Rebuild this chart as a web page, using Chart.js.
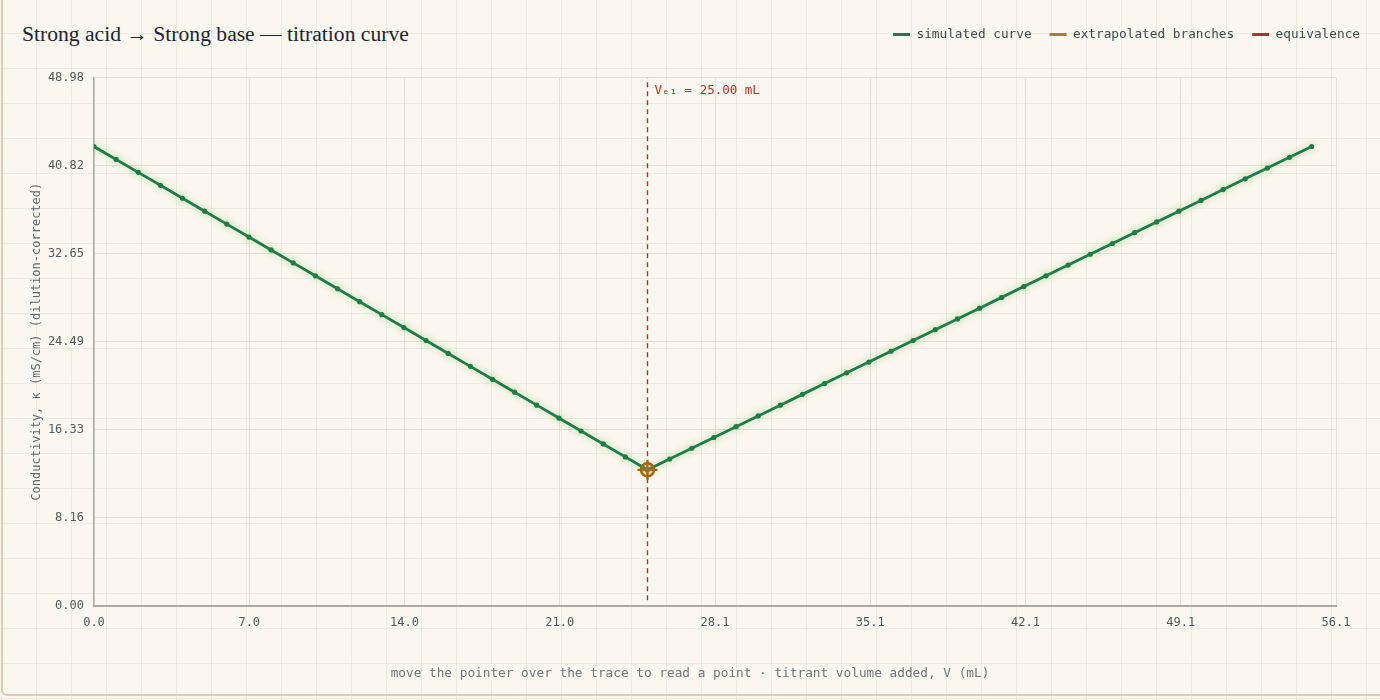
<!DOCTYPE html>
<html>
<head>
<meta charset="utf-8">
<script src="https://cdn.jsdelivr.net/npm/chart.js@4.4.1/dist/chart.umd.min.js"></script>
<style>
  html, body { margin: 0; padding: 0; width: 1380px; height: 700px; overflow: hidden; }
  body {
    background-color: #f9f7ef;
    background-image:
      linear-gradient(to right, rgba(205,215,195,0.35) 1px, transparent 1px),
      linear-gradient(to bottom, rgba(205,215,195,0.35) 1px, transparent 1px);
    background-size: 35px 35px;
    background-position: 1px -2px;
  }
  .card {
    position: absolute; left: 1px; top: -6px; width: 1390px; height: 702px;
    border: 2px solid #d9d0ab; border-radius: 6px; box-sizing: border-box;
  }
  h1 {
    position: absolute; left: 22px; top: 22px; margin: 0;
    font: 400 21.6px "Liberation Serif", serif; color: #1c2630;
  }
  .wrap { position: absolute; left: 0; top: 0; width: 1380px; height: 700px; }
</style>
</head>
<body>
<div class="card"></div>
<h1>Strong acid → Strong base — titration curve</h1>
<div class="wrap"><canvas id="c"></canvas></div>
<script>
// titrant volume added (mL)
const volumes = [0, 1, 2, 3, 4, 5, 6, 7, 8, 9, 10, 11, 12, 13, 14, 15, 16, 17, 18, 19,
  20, 21, 22, 23, 24, 25, 26, 27, 28, 29, 30, 31, 32, 33, 34, 35, 36, 37, 38, 39,
  40, 41, 42, 43, 44, 45, 46, 47, 48, 49, 50, 51, 52, 53, 54, 55]
// conductivity (mS/cm), dilution corrected
const conductivity = [42.6, 41.4, 40.2, 39.0, 37.8, 36.6, 35.4, 34.2, 33.0, 31.8,
  30.6, 29.4, 28.2, 27.0, 25.8, 24.6, 23.4, 22.2, 21.0, 19.8, 18.6, 17.4, 16.2, 15.0,
  13.8, 12.6, 13.6, 14.6, 15.6, 16.6, 17.6, 18.6, 19.6, 20.6, 21.6, 22.6, 23.6, 24.6,
  25.6, 26.6, 27.6, 28.6, 29.6, 30.6, 31.6, 32.6, 33.6, 34.6, 35.6, 36.6, 37.6, 38.6,
  39.6, 40.6, 41.6, 42.6]
const acidBranchX = [0, 25]
const acidBranchY = [42.6, 12.6]
const baseBranchX = [25, 55]
const baseBranchY = [12.6, 42.6]
const equivVolume = 25.00
const equivKappa = 12.6

const xMax = 56.1
const yMax = 48.98
const xTickLabels = ['0.0', '7.0', '14.0', '21.0', '28.1', '35.1', '42.1', '49.1', '56.1']
const yTickLabels = ['0.00', '8.16', '16.33', '24.49', '32.65', '40.82', '48.98']
const xTitle = 'move the pointer over the trace to read a point · titrant volume added, V (mL)'

const MONO = '"DejaVu Sans Mono", monospace'
const GREEN = '#1e7b4c'
const GOLD = '#b07b30'
const RED = '#ad3328'

const pts = (xs, ys) => xs.map((x, i) => ({ x: x, y: ys[i] }))

const glow = {
  id: 'glow',
  beforeDatasetDraw(chart, args) {
    if (args.index !== 0) return
    const ctx = chart.ctx
    ctx.save()
    ctx.shadowColor = 'rgba(130,185,80,0.45)'
    ctx.shadowBlur = 7
  },
  afterDatasetDraw(chart, args) {
    if (args.index !== 0) return
    chart.ctx.restore()
  }
}

const textBits = {
  id: 'textBits',
  afterDatasetsDraw(chart) {
    const ctx = chart.ctx
    const x = chart.scales.x.getPixelForValue(equivVolume)
    ctx.save()
    ctx.font = '12.5px ' + MONO
    ctx.fillStyle = RED
    ctx.textBaseline = 'middle'
    ctx.fillText('Vₑ₁ = ' + equivVolume.toFixed(2) + ' mL', x + 7, chart.chartArea.top + 13)
    // bottom caption, centred on the whole card
    ctx.font = '12.75px ' + MONO
    ctx.fillStyle = '#6d767a'
    ctx.textAlign = 'center'
    ctx.fillText(xTitle, chart.width / 2, chart.chartArea.bottom + 68)
    ctx.restore()
  }
}

const legendGap = {
  id: 'legendGap',
  beforeInit(chart) {
    const fit = chart.legend.fit
    chart.legend.fit = function () {
      fit.bind(chart.legend)()
      this.height += 27
    }
  }
}

const ctx = document.getElementById('c').getContext('2d')
const chart = new Chart(ctx, {
  type: 'line',
  data: {
    datasets: [
      {
        label: 'simulated curve',
        data: pts(volumes, conductivity),
        borderColor: GREEN,
        backgroundColor: GREEN,
        borderWidth: 2.8,
        pointRadius: 2.6,
        pointBorderWidth: 0,
        pointBackgroundColor: GREEN,
        tension: 0,
        order: 1
      },
      {
        label: 'extrapolated branches',
        data: pts(acidBranchX, acidBranchY),
        borderColor: GOLD,
        backgroundColor: GOLD,
        borderWidth: 1.2,
        borderDash: [4, 4],
        pointRadius: 0,
        order: 3
      },
      {
        label: '_base branch',
        data: pts(baseBranchX, baseBranchY),
        borderColor: GOLD,
        borderWidth: 1.2,
        borderDash: [4, 4],
        pointRadius: 0,
        order: 3
      },
      {
        label: 'equivalence',
        data: [{ x: equivVolume, y: 0.5 }, { x: equivVolume, y: yMax }],
        borderColor: RED,
        backgroundColor: RED,
        borderWidth: 1.4,
        borderDash: [5, 4],
        pointRadius: 0,
        order: 4
      },
      {
        label: '_eq ring',
        data: [{ x: equivVolume, y: equivKappa }],
        showLine: false,
        pointStyle: 'circle',
        pointRadius: 6.5,
        pointBorderWidth: 2.5,
        pointBorderColor: '#a0650f',
        pointBackgroundColor: 'rgba(196,140,40,0.25)',
        order: 0
      },
      {
        label: '_eq cross',
        data: [{ x: equivVolume, y: equivKappa }],
        showLine: false,
        pointStyle: 'cross',
        pointRadius: 10,
        pointBorderWidth: 2.3,
        pointBorderColor: '#a0650f',
        order: 0
      }
    ]
  },
  options: {
    responsive: true,
    maintainAspectRatio: false,
    animation: false,
    events: [],
    layout: { padding: { left: 22, right: 2, top: 10, bottom: 60 } },
    plugins: {
      tooltip: { enabled: false },
      legend: {
        position: 'top',
        align: 'end',
        labels: {
          font: { family: MONO, size: 12.75 },
          color: '#3d4a55',
          boxWidth: 17,
          boxHeight: 3,
          padding: 18,
          generateLabels(chart) {
            return chart.data.datasets
              .map((d, i) => ({ d, i }))
              .filter(o => !o.d.label.startsWith('_'))
              .map(o => ({
                text: o.d.label,
                fillStyle: o.d.borderColor,
                strokeStyle: o.d.borderColor,
                lineWidth: 0,
                fontColor: '#3d4a55',
                datasetIndex: o.i,
                hidden: false
              }))
          }
        }
      }
    },
    scales: {
      x: {
        type: 'linear',
        min: 0,
        max: xMax,
        afterBuildTicks(scale) {
          scale.ticks = xTickLabels.map((l, i) => ({ value: xMax * i / (xTickLabels.length - 1) }))
        },
        ticks: {
          padding: 10,
          color: '#4f5a5e',
          font: { family: MONO, size: 12 },
          maxRotation: 0,
          callback: (v, i) => xTickLabels[i]
        },
        grid: { color: '#e2e0d5', lineWidth: 1, drawTicks: false },
        border: { color: '#a9ada4', width: 2 }
      },
      y: {
        type: 'linear',
        min: 0,
        max: yMax,
        afterBuildTicks(scale) {
          scale.ticks = yTickLabels.map((l, i) => ({ value: yMax * i / (yTickLabels.length - 1) }))
        },
        afterFit(scale) { scale.width = 72 },
        ticks: {
          padding: 10,
          color: '#4f5a5e',
          font: { family: MONO, size: 12 },
          callback: (v, i) => yTickLabels[i]
        },
        grid: { color: '#e2e0d5', lineWidth: 1, drawTicks: false },
        border: { color: '#a9ada4', width: 1.5 },
        title: {
          display: true,
          text: 'Conductivity, κ (mS/cm) (dilution-corrected)',
          color: '#5d676e',
          font: { family: MONO, size: 12 },
          padding: { top: 8, bottom: 6 }
        }
      },
      yRight: {
        type: 'linear',
        position: 'right',
        display: true,
        grid: { display: false, drawTicks: false },
        border: { display: false },
        ticks: { display: false },
        afterFit(scale) { scale.width = 42 }
      }
    }
  },
  plugins: [glow, textBits, legendGap]
})
</script>
</body>
</html>
